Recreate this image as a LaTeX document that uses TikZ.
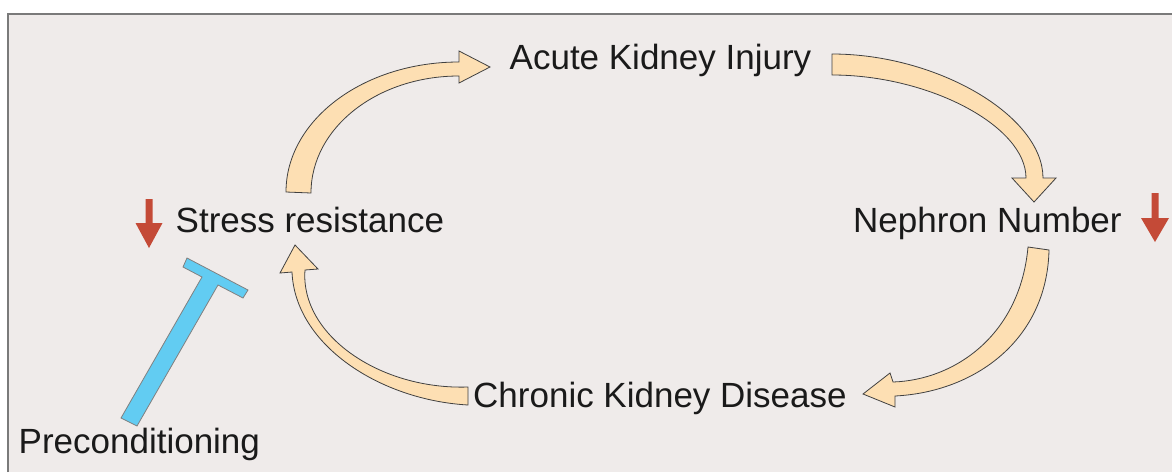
\documentclass[tikz,border=0pt]{standalone}
\usepackage{fontspec}
\setmainfont{Liberation Sans}
\definecolor{bgpink}{HTML}{EFEBEA}
\definecolor{framegray}{HTML}{7A7A7A}
\definecolor{peach}{HTML}{FDDFB3}
\definecolor{edgegray}{HTML}{404040}
\definecolor{downred}{HTML}{C44A37}
\definecolor{tblue}{HTML}{62CCF2}
\definecolor{txt}{HTML}{1A1A1A}
\begin{document}
\begin{tikzpicture}[x=1pt,y=-1pt,
  lbl/.style={anchor=base west,inner sep=0pt,text=txt,font=\fontsize{35}{40}\selectfont},
  blockarrow/.style={fill=peach,draw=edgegray,line width=0.8pt,line join=miter},
  downarrow/.style={fill=downred,draw=none},
  inhib/.style={fill=tblue,draw=gray,line width=0.8pt}]
\useasboundingbox (0,0) rectangle (1172,472);
\fill[white] (0,0) rectangle (1172,472);
\fill[bgpink] (8,14) rectangle (1172,472);
\draw[framegray,line width=1.5pt] (8,472) -- (8,14) -- (1172,14);

% texts
\node[lbl] (aki) at (509.5,69) {Acute Kidney Injury};
\node[lbl] (stress) at (175.5,232) {Stress resistance};
\node[lbl] (nephron) at (853,232) {Nephron Number};
\node[lbl] (ckd) at (473,407.5) {Chronic Kidney Disease};
\node[lbl] (precond) at (18.5,453) {Preconditioning};

% block arrow: Stress resistance -> AKI
\path[blockarrow] (286,192) .. controls (286,120) and (363.5,62) .. (459,62)
  -- (459,51) -- (490,67) -- (459,83) -- (459,76)
  .. controls (377,76) and (311,128) .. (311,193) -- cycle;

% block arrow: AKI -> Nephron Number
\path[blockarrow] (832,54) .. controls (937.5,54) and (1043,116) .. (1043,178)
  -- (1056,178) -- (1034,202) -- (1012,178) -- (1026,178)
  .. controls (1026,126) and (929,75) .. (832,75) -- cycle;

% block arrow: Nephron Number -> CKD
\path[blockarrow] (1049,250) .. controls (1047,340) and (975,392) .. (895,396)
  -- (895,407) -- (863,394) -- (890,373) -- (893,382)
  .. controls (955,380) and (1020,335) .. (1028,247) -- cycle;

% block arrow: CKD -> Stress resistance
\path[blockarrow] (468,405) .. controls (380,400) and (295,345) .. (292,272)
  -- (280,273) -- (295,245) -- (318,269) -- (305,270)
  .. controls (300,335) and (380,390) .. (468,387) -- cycle;

% red down arrows
\path[downarrow] (145.5,199) -- (152.5,199) -- (152.5,223) -- (162.5,223) -- (149,248)
  -- (135.5,223) -- (145.5,223) -- cycle;
\path[downarrow] (1151.5,193) -- (1158.5,193) -- (1158.5,218) -- (1169,218) -- (1155,242)
  -- (1141,218) -- (1151.5,218) -- cycle;

% inhibition T
\path[inhib] (187,258) -- (248,290) -- (243,298) -- (218,285) -- (137,426)
  -- (121,418) -- (202,277) -- (183,267) -- cycle;
\end{tikzpicture}
\end{document}
